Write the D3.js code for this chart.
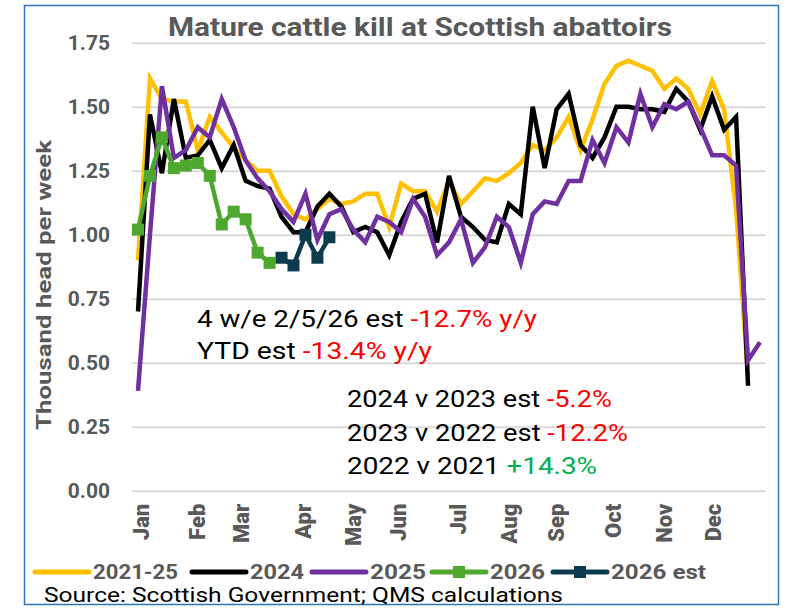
<!DOCTYPE html>
<html>
<head>
<meta charset="utf-8">
<script src="https://cdn.jsdelivr.net/npm/d3@7"></script>
<style>
  body { margin: 0; background: #fff; }
  svg { font-family: Roboto, "Liberation Sans", sans-serif; }
</style>
</head>
<body>
<div id="chart"></div>
<script>
// weekly values, thousand head per week (week index 0 = first week of Jan)
var months = ["Jan","Feb","Mar","Apr","May","Jun","Jul","Aug","Sep","Oct","Nov","Dec"];
var monthWeeks = [0.2, 4.9, 8.6, 13.8, 17.9, 21.7, 26.7, 31, 34.9, 39.7, 43.9, 48];

var avg2125 = [0.90,1.61,1.53,1.52,1.52,1.33,1.46,1.40,1.34,1.29,1.25,1.25,1.15,1.08,1.06,1.10,
  1.14,1.12,1.13,1.16,1.16,1.03,1.20,1.17,1.17,1.09,1.21,1.12,1.17,1.22,1.21,1.24,1.28,1.35,
  1.33,1.38,1.46,1.33,1.45,1.59,1.66,1.68,1.66,1.64,1.57,1.61,1.57,1.47,1.60,1.49,1.10,0.45];
var kill2024 = [0.70,1.47,1.24,1.53,1.30,1.31,1.37,1.26,1.35,1.21,1.19,1.18,1.07,1.01,1.01,1.11,
  1.16,1.11,1.01,1.03,1.01,0.92,1.05,1.14,1.16,0.97,1.23,1.07,1.03,0.98,0.97,1.12,1.08,1.50,
  1.26,1.49,1.55,1.35,1.30,1.38,1.50,1.50,1.49,1.49,1.48,1.57,1.52,1.41,1.54,1.41,1.46,0.41];
var kill2025 = [0.39,1.00,1.58,1.30,1.33,1.42,1.38,1.53,1.42,1.29,1.22,1.17,1.10,1.05,1.16,0.98,
  1.08,1.10,1.02,0.97,1.07,1.05,1.01,1.14,1.07,0.92,0.97,1.06,0.89,0.95,1.07,1.03,0.89,1.08,
  1.13,1.12,1.21,1.21,1.37,1.28,1.42,1.36,1.55,1.42,1.51,1.49,1.52,1.42,1.31,1.31,1.27,0.51,0.58];
var kill2026 = [1.02,1.23,1.38,1.26,1.27,1.28,1.23,1.04,1.09,1.06,0.93,0.89];
var est2026Weeks = [12,13,14,15,16];
var est2026 = [0.91,0.88,1.00,0.91,0.99];

var yTicks = [0, 0.25, 0.5, 0.75, 1, 1.25, 1.5, 1.75];
var legendNames = ["2021-25","2024","2025","2026","2026 est"];
var colors = ["#FFC000","#000000","#7030A0","#4EA72E","#0E3A4E"];

var W = 789, H = 609;
var svg = d3.select("#chart").append("svg").attr("width", W).attr("height", H);

svg.append("rect").attr("x", 24.5).attr("y", 5.5).attr("width", 754).attr("height", 599)
  .attr("fill", "#fff").attr("stroke", "#2E75B6").attr("stroke-width", 1.5);

var x = d3.scaleLinear().domain([0, 52]).range([138, 760]);
var y = d3.scaleLinear().domain([0, 1.75]).range([490.7, 42.7]);
var gridLeft = 132, gridRight = 766;

// grid + y axis
var yAxis = svg.append("g").attr("transform", "translate(" + gridLeft + ",0)")
  .call(d3.axisLeft(y).tickValues(yTicks).tickFormat(d3.format(".2f"))
    .tickSize(-(gridRight - gridLeft)).tickPadding(22));
yAxis.select(".domain").remove();
yAxis.selectAll("line").attr("stroke", "#D9D9D9").attr("stroke-width", 2);
yAxis.selectAll("text").attr("fill", "#595959").attr("font-size", 21).attr("font-weight", "bold")
  .attr("font-family", "Roboto");

// x axis month labels
var xAxis = svg.append("g").attr("transform", "translate(0," + y(0) + ")")
  .call(d3.axisBottom(x).tickValues(monthWeeks).tickFormat(function (d, i) { return months[i]; }).tickSize(0));
xAxis.select(".domain").remove();
xAxis.selectAll("text")
  .attr("transform", "rotate(-90)").attr("x", -13).attr("y", 0).attr("dy", "0.36em")
  .style("text-anchor", "end")
  .attr("fill", "#595959").attr("font-size", 22).attr("font-weight", 900).attr("font-family", "Roboto");

// title + axis title
svg.append("text").attr("x", 420).attr("y", 36).attr("text-anchor", "middle")
  .attr("font-size", 25).attr("font-weight", "bold").attr("fill", "#595959")
  .attr("textLength", 504).attr("lengthAdjust", "spacingAndGlyphs")
  .text("Mature cattle kill at Scottish abattoirs");
svg.append("text").attr("transform", "translate(51,285) rotate(-90)").attr("text-anchor", "middle")
  .attr("font-size", 21).attr("font-weight", "bold").attr("fill", "#595959")
  .attr("textLength", 290).attr("lengthAdjust", "spacingAndGlyphs")
  .text("Thousand head per week");

// lines
var line = d3.line().x(function (d) { return x(d[0]); }).y(function (d) { return y(d[1]); });
function pairs(vals, weeks) {
  return vals.map(function (v, i) { return [weeks ? weeks[i] : i, v]; });
}
var seriesList = [pairs(avg2125), pairs(kill2024), pairs(kill2025), pairs(kill2026), pairs(est2026, est2026Weeks)];
seriesList.forEach(function (s, k) {
  svg.append("path").datum(s).attr("d", line).attr("fill", "none")
    .attr("stroke", colors[k]).attr("stroke-width", 4.5).attr("stroke-linejoin", "miter");
  if (k >= 3) {
    svg.append("g").selectAll("rect").data(s).join("rect")
      .attr("x", function (d) { return x(d[0]) - 6; }).attr("y", function (d) { return y(d[1]) - 6; })
      .attr("width", 12).attr("height", 12).attr("fill", colors[k]);
  }
});

// annotations
function note(xp, yp, len, parts) {
  var t = svg.append("text").attr("x", xp).attr("y", yp).attr("font-size", 24).attr("font-family", "Roboto")
    .attr("textLength", len).attr("lengthAdjust", "spacingAndGlyphs");
  parts.forEach(function (p) { t.append("tspan").attr("fill", p[1]).text(p[0]); });
}
note(197, 327, 340, [["4 w/e 2/5/26 est ", "#000"], ["-12.7% y/y", "#FF0000"]]);
note(197, 359, 235, [["YTD est ", "#000"], ["-13.4% y/y", "#FF0000"]]);
note(347, 407, 265, [["2024 v 2023 est ", "#000"], ["-5.2%", "#FF0000"]]);
note(347, 441, 281, [["2023 v 2022 est ", "#000"], ["-12.2%", "#FF0000"]]);
note(347, 474, 250, [["2022 v 2021 ", "#000"], ["+14.3%", "#00B050"]]);

// legend
var legX = [35, 192, 312, 432, 553];
var legW = [85, 54, 56, 55, 95];
legendNames.forEach(function (name, k) {
  var g = svg.append("g").attr("transform", "translate(" + legX[k] + ",572)");
  g.append("line").attr("x1", 0).attr("x2", 54).attr("stroke", colors[k]).attr("stroke-width", 5)
    .attr("stroke-linecap", "round");
  if (k >= 3) g.append("rect").attr("x", 21).attr("y", -6).attr("width", 12).attr("height", 12).attr("fill", colors[k]);
  g.append("text").attr("x", 58).attr("y", 7).attr("font-size", 20).attr("font-weight", "bold")
    .attr("fill", "#595959").attr("textLength", legW[k]).attr("lengthAdjust", "spacingAndGlyphs").text(name);
});

svg.append("text").attr("x", 44).attr("y", 602).attr("font-size", 20).attr("fill", "#000")
  .attr("textLength", 519).attr("lengthAdjust", "spacingAndGlyphs")
  .text("Source: Scottish Government; QMS calculations");
</script>
</body>
</html>
